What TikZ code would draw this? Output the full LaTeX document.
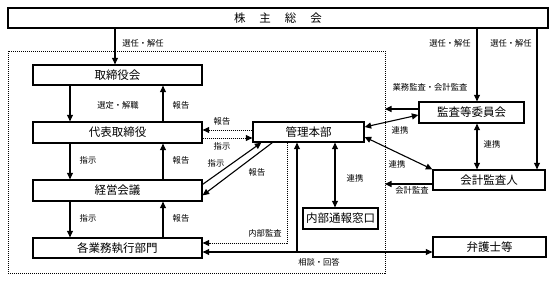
\documentclass[tikz,border=0pt]{standalone}
\usepackage{fontspec}
\setmainfont{Noto Sans CJK JP}
\usetikzlibrary{arrows.meta}
\begin{document}
\begin{tikzpicture}[x=1pt,y=-1pt,
 box/.style={draw, line width=1.3pt, inner sep=0pt, font=\fontsize{11.5}{13}\selectfont, minimum height=20pt},
 arr/.style={line width=1.1pt, -{Triangle[length=6.5pt,width=6pt]}},
 darr/.style={line width=1.1pt, {Triangle[length=6.5pt,width=6pt]}-{Triangle[length=6.5pt,width=6pt]}},
 dot/.style={line width=1pt, dash pattern=on 1pt off 1pt},
 lab/.style={font=\fontsize{8.3}{9}\selectfont, inner sep=1pt}]
\useasboundingbox (0,0) rectangle (558,281);
\fill[white] (0,0) rectangle (558,281);

% container
\draw[dot] (8,51) rectangle (385,273);

% boxes
\node[box, minimum width=540pt] (kabu) at (278,18) {株\hspace{14pt}主\hspace{14pt}総\hspace{14pt}会};
\node[box, minimum width=169pt] (tori) at (117.5,75) {取締役会};
\node[box, minimum width=169pt, minimum height=21pt] (daihyo) at (117.5,132.5) {代表取締役};
\node[box, minimum width=169pt, minimum height=21pt] (keiei) at (117.5,190.5) {経営会議};
\node[box, minimum width=169pt] (gyomu) at (117.5,248) {各業務執行部門};
\node[box, minimum width=111pt] (kanri) at (308.5,132) {管理本部};
\node[box, minimum width=75pt, minimum height=21pt] (tsuho) at (340.5,218.5) {内部通報窓口};
\node[box, minimum width=105pt, minimum height=21pt] (kansa) at (471.5,112.5) {監査等委員会};
\node[box, minimum width=112pt] (kaikei) at (489,180) {会計監査人};
\node[box, minimum width=113pt] (bengo) at (489.5,247) {弁護士等};

% helper coordinates
\coordinate (xa) at (115,0);
\coordinate (xl) at (70,0);
\coordinate (xr) at (163,0);
\coordinate (xk) at (477,0);
\coordinate (xm) at (537,0);
\coordinate (xs) at (297,0);
\coordinate (xt) at (335,0);
\coordinate (xi) at (287,0);
\coordinate (d1) at (0,130);
\coordinate (d2) at (0,138);
\coordinate (ia) at (287,243);
\coordinate (sa) at (297,252);
\coordinate (ga) at (385,109);
\coordinate (gb) at (385,184);

% shareholders
\draw[arr] (kabu.south -| xa) -- (tori.north -| xa);
\draw[arr] (kabu.south -| xk) -- (kansa.north -| xk);
\draw[arr] (kabu.south -| xm) -- (kaikei.north -| xm);
\node[lab] at (143,43) {選任・解任};
\node[lab] at (450,43) {選任・解任};
\node[lab] at (511,43) {選任・解任};

% left column
\draw[arr] (tori.south -| xl) -- (daihyo.north -| xl);
\draw[arr] (daihyo.north -| xr) -- (tori.south -| xr);
\node[lab] at (118,105) {選定・解職};
\node[lab] at (181,105) {報告};
\draw[arr] (daihyo.south -| xl) -- (keiei.north -| xl);
\draw[arr] (keiei.north -| xr) -- (daihyo.south -| xr);
\node[lab] at (88,160) {指示};
\node[lab] at (181,160) {報告};
\draw[arr] (keiei.south -| xl) -- (gyomu.north -| xl);
\draw[arr] (gyomu.north -| xr) -- (keiei.south -| xr);
\node[lab] at (88,218) {指示};
\node[lab] at (181,218) {報告};

% daihyo <-> kanri dotted
\draw[arr, dot] (kanri.west |- d1) -- (daihyo.east |- d1);
\draw[arr, dot] (daihyo.east |- d2) -- (kanri.west |- d2);
\node[lab] at (222,121) {報告};
\node[lab] at (222,146) {指示};

% keiei <-> kanri diagonals
\draw[arr] ([yshift=-5pt]keiei.north east) -- ([xshift=9pt]kanri.south west);
\draw[arr] ([xshift=20pt]kanri.south west) -- ([yshift=-16pt]keiei.north east);
\node[lab] at (216,163) {指示};
\node[lab] at (257,172) {報告};

% internal audit
\draw[arr, dot] (kanri.south -| xi) -- (ia) -- (gyomu.east |- ia);
\node[lab] at (265,233) {内部監査};

% consultation
\draw[darr] (gyomu.east |- sa) -- (bengo.west |- sa);
\draw[arr] (sa) -- (kanri.south -| xs);
\node[lab] at (319,262) {相談・回答};

% kanri <-> tsuho
\draw[darr] (kanri.south -| xt) -- (tsuho.north -| xt);
\node[lab] at (355,178) {連携};

% audit committee
\draw[arr] (kansa.west |- ga) -- (ga);
\node[lab] at (430,87) {業務監査・会計監査};
\draw[darr] ([yshift=-2.5pt]kansa.west) -- ([yshift=5pt]kanri.east);
\node[lab] at (400,130) {連携};
\draw[darr] ([yshift=-5pt]kanri.east) -- (kaikei.north west);
\node[lab] at (397,164) {連携};
\draw[darr] (kansa.south -| xk) -- (kaikei.north -| xk);
\node[lab] at (492,144) {連携};
\draw[arr] (kaikei.west |- gb) -- (gb);
\node[lab] at (412,190) {会計監査};
\end{tikzpicture}
\end{document}
